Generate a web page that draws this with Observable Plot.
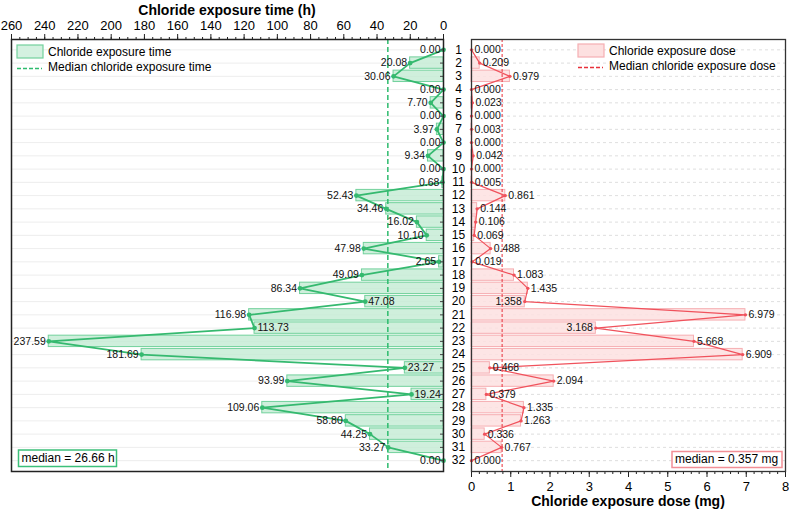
<!DOCTYPE html>
<html><head><meta charset="utf-8">
<script src="https://cdn.jsdelivr.net/npm/d3@7"></script>
<script src="https://cdn.jsdelivr.net/npm/@observablehq/plot@0.6"></script>
<style>
body{margin:0;background:#fff;font-family:"Liberation Sans",Arial,sans-serif;}
#wrap{position:relative;width:789px;height:511px;overflow:hidden;}
#wrap svg{position:absolute;left:0;top:0;}
.ttl{position:absolute;font-weight:bold;font-size:14px;color:#000;text-align:center;white-space:nowrap;}
</style></head><body><div id="wrap"></div>
<script>
// ---- data ----
const rows = d3.range(1, 33);
const exposureTime = [0.00,20.08,30.06,0.00,7.70,0.00,3.97,0.00,9.34,0.00,0.68,52.43,34.46,16.02,10.10,47.98,2.65,49.09,86.34,47.08,116.98,113.73,237.59,181.69,23.27,93.99,19.24,109.06,58.80,44.25,33.27,0.00];
const exposureDose = [0.000,0.209,0.979,0.000,0.023,0.000,0.003,0.000,0.042,0.000,0.005,0.861,0.144,0.106,0.069,0.488,0.019,1.083,1.435,1.358,6.979,3.168,5.668,6.909,0.468,2.094,0.379,1.335,1.263,0.336,0.767,0.000];
const medianTimeLabel = "median = 26.66 h";
const medianDoseLabel = "median = 0.357 mg";
const medianTimeLine = 33.5;   // where the dashed line is drawn in the reference
const medianDoseLine = 0.78;
const timeTicks = d3.range(0, 261, 20);
const timeMinorTicks = d3.range(0, 261, 5);
const doseTicks = d3.range(0, 9, 1);
const doseMinorTicks = d3.range(0, 8.01, 0.2);
const titleTime = "Chloride exposure time (h)";
const titleDose = "Chloride exposure dose (mg)";
const legendTime = ["Chloride exposure time", "Median chloride exposure time"];
const legendDose = ["Chloride exposure dose", "Median chloride exposure dose"];

// ---- derived tables ----
function localMin(arr, i) {
  return i > 0 && i < arr.length - 1 && arr[i] < arr[i - 1] && arr[i] < arr[i + 1];
}
const timeData = rows.map((r, i) => ({row: r, v: exposureTime[i], right: localMin(exposureTime, i) && exposureTime[i] > 15}));
const doseData = rows.map((r, i) => ({row: r, v: exposureDose[i], left: localMin(exposureDose, i) && exposureDose[i] > 1}));

const W = 789, H = 511;
const yDomain = [0.22, 32.82];
const font = '"Liberation Sans", Arial, sans-serif';
const GREEN = "#35b96f", RED = "#f0525c";
const blank = () => "";

const leftPlot = Plot.plot({
  width: W, height: H, marginTop: 39, marginBottom: 40, marginLeft: 11, marginRight: 346,
  style: {background: "transparent", fontFamily: font, fontSize: "13px", color: "#000", overflow: "visible"},
  x: {domain: [0, 260], reverse: true, axis: null},
  y: {domain: yDomain, reverse: true, axis: null},
  marks: [
    Plot.ruleY(timeData, {y: "row", stroke: "#e8e8e8", strokeWidth: 0.8}),
    Plot.rectX(timeData, {x1: 0, x2: "v", y1: d => d.row - 0.43, y2: d => d.row + 0.43, fill: "#c3ebd3", fillOpacity: 0.8, stroke: "#72d19c", strokeWidth: 1}),
    Plot.ruleX([medianTimeLine], {stroke: "#2dbb6e", strokeWidth: 1.5, strokeDasharray: "5,3"}),
    Plot.line(timeData, {x: "v", y: "row", stroke: GREEN, strokeWidth: 1.8}),
    Plot.dot(timeData, {x: "v", y: "row", r: 2.4, fill: GREEN}),
    Plot.text(timeData.filter(d => !d.right), {x: "v", y: "row", text: d => d.v.toFixed(2), textAnchor: "end", dx: -3, fontSize: 10.5, fill: "#111"}),
    Plot.text(timeData.filter(d => d.right), {x: "v", y: "row", text: d => d.v.toFixed(2), textAnchor: "start", dx: 3, fontSize: 10.5, fill: "#111"}),
    Plot.axisX({anchor: "top", ticks: timeMinorTicks, tickSize: 3, tickFormat: blank, label: null, stroke: "#222"}),
    Plot.axisX({anchor: "top", ticks: timeTicks, tickSize: 6, tickFormat: blank, label: null, stroke: "#222"}),
    Plot.text(timeTicks, {x: d => d, frameAnchor: "top", text: d => String(d), lineAnchor: "middle", dy: -14, fontSize: 13, fill: "#000"}),
    Plot.axisY({anchor: "right", ticks: rows, tickSize: 4, dx: -4, tickFormat: blank, label: null, stroke: "#444"}),
    Plot.frame({stroke: "#222", strokeWidth: 1.5})
  ]
});

const rightPlot = Plot.plot({
  width: W, height: H, marginTop: 39, marginBottom: 40, marginLeft: 471, marginRight: 4,
  style: {background: "transparent", fontFamily: font, fontSize: "13px", color: "#000", overflow: "visible"},
  x: {domain: [0, 8], axis: null},
  y: {domain: yDomain, reverse: true, axis: null},
  marks: [
    Plot.ruleY(doseData, {y: "row", stroke: "#d6d6d6", strokeWidth: 0.8, strokeDasharray: "3,3"}),
    Plot.rectX(doseData, {x1: 0, x2: "v", y1: d => d.row - 0.43, y2: d => d.row + 0.43, fill: "#fde0e0", fillOpacity: 0.85, stroke: "#f6aeb2", strokeWidth: 1}),
    Plot.ruleX([medianDoseLine], {stroke: "#e8303a", strokeWidth: 1, strokeDasharray: "3,2"}),
    Plot.line(doseData, {x: "v", y: "row", stroke: RED, strokeWidth: 1.2}),
    Plot.dot(doseData, {x: "v", y: "row", r: 1.7, fill: RED}),
    Plot.text(doseData.filter(d => !d.left), {x: "v", y: "row", text: d => d.v.toFixed(3), textAnchor: "start", dx: 3, fontSize: 10.5, fill: "#111"}),
    Plot.text(doseData.filter(d => d.left), {x: "v", y: "row", text: d => d.v.toFixed(3), textAnchor: "end", dx: -3, fontSize: 10.5, fill: "#111"}),
    Plot.text(doseData, {frameAnchor: "left", y: "row", text: d => String(d.row), textAnchor: "middle", dx: -13, fontSize: 12, fill: "#000"}),
    Plot.axisX({anchor: "bottom", ticks: doseMinorTicks, tickSize: 3, tickFormat: blank, label: null, stroke: "#222"}),
    Plot.axisX({anchor: "bottom", ticks: doseTicks, tickSize: 6, tickFormat: blank, label: null, stroke: "#222"}),
    Plot.text(doseTicks, {x: d => d, frameAnchor: "bottom", text: d => String(d), lineAnchor: "middle", dy: 15, fontSize: 13, fill: "#000"}),
    Plot.frame({stroke: "#333", strokeWidth: 1.3})
  ]
});

const wrap = document.getElementById("wrap");
wrap.appendChild(leftPlot);
wrap.appendChild(rightPlot);

// ---- titles ----
const t1 = document.createElement("div");
t1.className = "ttl"; t1.textContent = titleTime;
t1.style.left = "11px"; t1.style.width = "432px"; t1.style.top = "2px";
wrap.appendChild(t1);
const t2 = document.createElement("div");
t2.className = "ttl"; t2.textContent = titleDose;
t2.style.left = "471px"; t2.style.width = "314px"; t2.style.top = "493px";
wrap.appendChild(t2);

// ---- legends and median boxes ----
const ov = d3.select(wrap).append("svg").attr("width", W).attr("height", H)
  .style("font-family", font).style("font-size", "12px");
function legend(x, y, labels, fill, stroke, dash) {
  ov.append("rect").attr("x", x).attr("y", y).attr("width", 26).attr("height", 13)
    .attr("fill", fill).attr("stroke", stroke).attr("stroke-width", 1.2);
  ov.append("text").attr("x", x + 31).attr("y", y + 11).text(labels[0]);
  ov.append("line").attr("x1", x).attr("x2", x + 25).attr("y1", y + 23.5).attr("y2", y + 23.5)
    .attr("stroke", dash).attr("stroke-width", 1.5).attr("stroke-dasharray", "4,2");
  ov.append("text").attr("x", x + 31).attr("y", y + 26).text(labels[1]);
}
legend(17, 45, legendTime, "#d4f1e0", "#72d19c", "#2dbb6e");
legend(578, 44, legendDose, "#fde0e0", "#f6aeb2", "#e8303a");

function box(x, y, w, h, label, stroke) {
  ov.append("rect").attr("x", x).attr("y", y).attr("width", w).attr("height", h)
    .attr("fill", "#fff").attr("stroke", stroke).attr("stroke-width", 1.5);
  ov.append("text").attr("x", x + 3).attr("y", y + h - 4.5).text(label);
}
box(18.5, 450, 98, 16.5, medianTimeLabel, "#3cc07a");
box(672, 451.5, 110, 16, medianDoseLabel, "#f28f96");
</script></body></html>
